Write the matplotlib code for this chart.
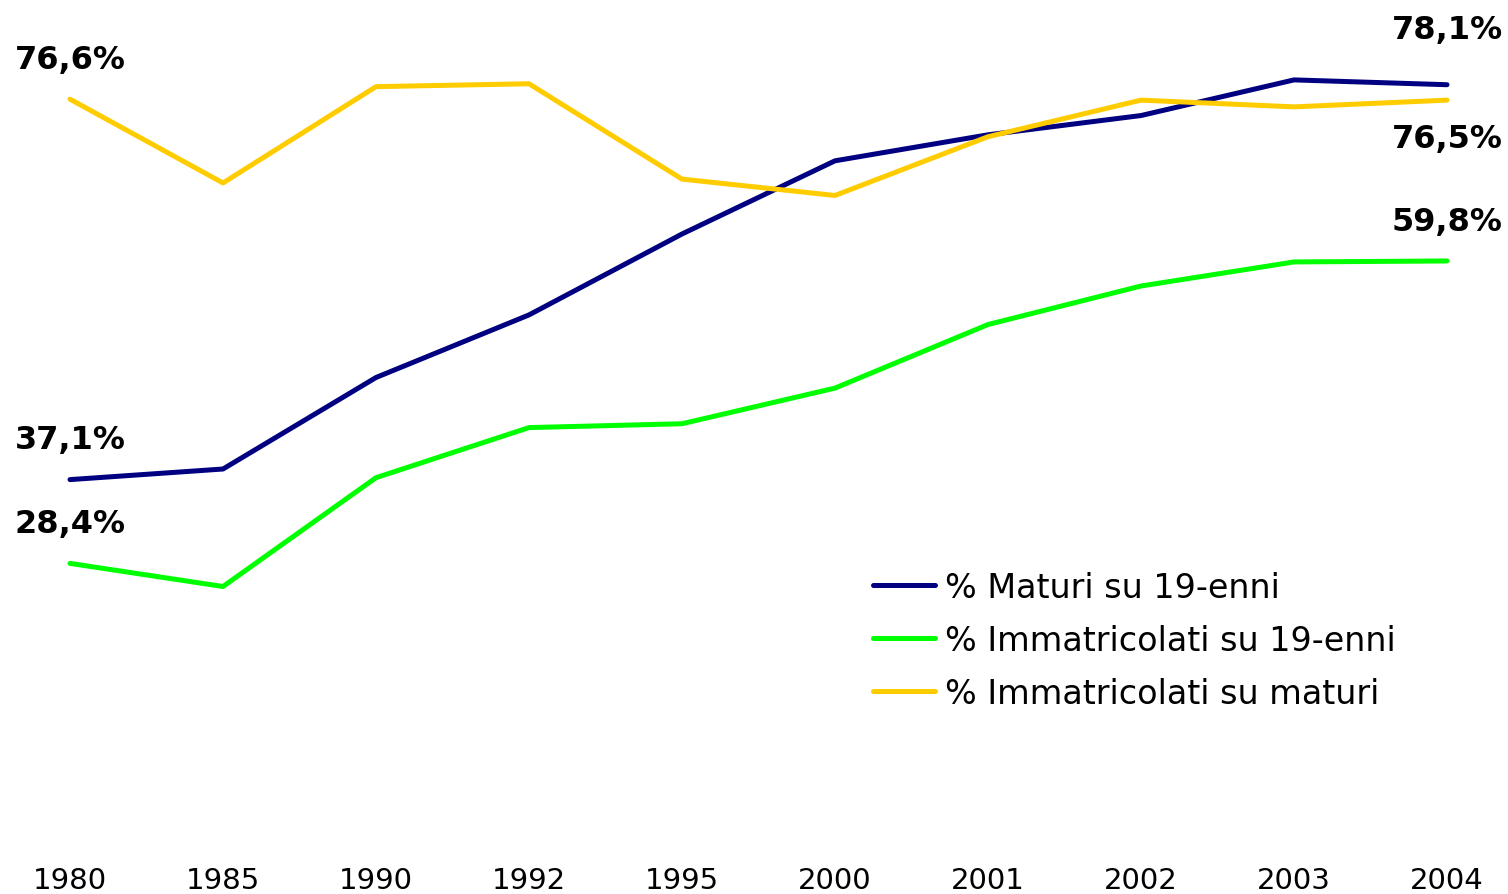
import numpy as np
import matplotlib.pyplot as plt

# Data
years = ['1980', '1985', '1990', '1992', '1995', '2000', '2001', '2002', '2003', '2004']
maturi_19 = [37.1, 38.2, 47.7, 54.2, 62.6, 70.2, 72.9, 74.9, 78.6, 78.1]
immatr_19 = [28.4, 26.0, 37.3, 42.5, 42.9, 46.6, 53.2, 57.2, 59.7, 59.8]
immatr_mat = [76.6, 67.9, 77.9, 78.2, 68.3, 66.6, 72.7, 76.5, 75.8, 76.5]

labels = ['% Maturi su 19-enni', '% Immatricolati su 19-enni', '% Immatricolati su maturi']
colors = ['#000080', '#00FF00', '#FFCC00']

W, H = 1508, 895
fig = plt.figure(figsize=(W / 100, H / 100), dpi=100)
ax = fig.add_axes([0, 1 - 836 / H, 1, 836 / H])

x = np.arange(len(years))
series = [maturi_19, immatr_19, immatr_mat]
for vals, lab, col in zip(series, labels, colors):
    ax.plot(x, vals, color=col, lw=3.6, label=lab, solid_capstyle='round')

# Axis limits so that categories sit at the same pixel places
step = 153.0
ax.set_xlim(-70 / step, (W - 70) / step)
ax.set_ylim(0.2, 87.0)

ax.set_xticks(x)
ax.set_xticklabels(years, fontsize=21)
ax.tick_params(axis='x', length=0, pad=22)
ax.set_yticks([])
for s in ax.spines.values():
    s.set_visible(False)

# Data labels (first and last points), offsets in pixels
ends = [
    (0, maturi_19[0], 40), (0, immatr_19[0], 40), (0, immatr_mat[0], 40),
    (9, maturi_19[-1], 55), (9, immatr_19[-1], 39), (9, immatr_mat[-1], -38),
]
for xi, v, dy in ends:
    ax.annotate(f"{v:.1f}%".replace('.', ','), (xi, v), xytext=(0, dy),
                textcoords='offset pixels', ha='center', va='center',
                fontsize=23, fontweight='bold', color='black')

# Legend
ax.legend(loc='upper left', bbox_to_anchor=(873 / W, 1 - 572 / 836),
          frameon=False, fontsize=24, handlelength=1.85, handletextpad=0.3,
          labelspacing=0.6, borderaxespad=0, borderpad=0)

fig.savefig('out.png', dpi=100)
